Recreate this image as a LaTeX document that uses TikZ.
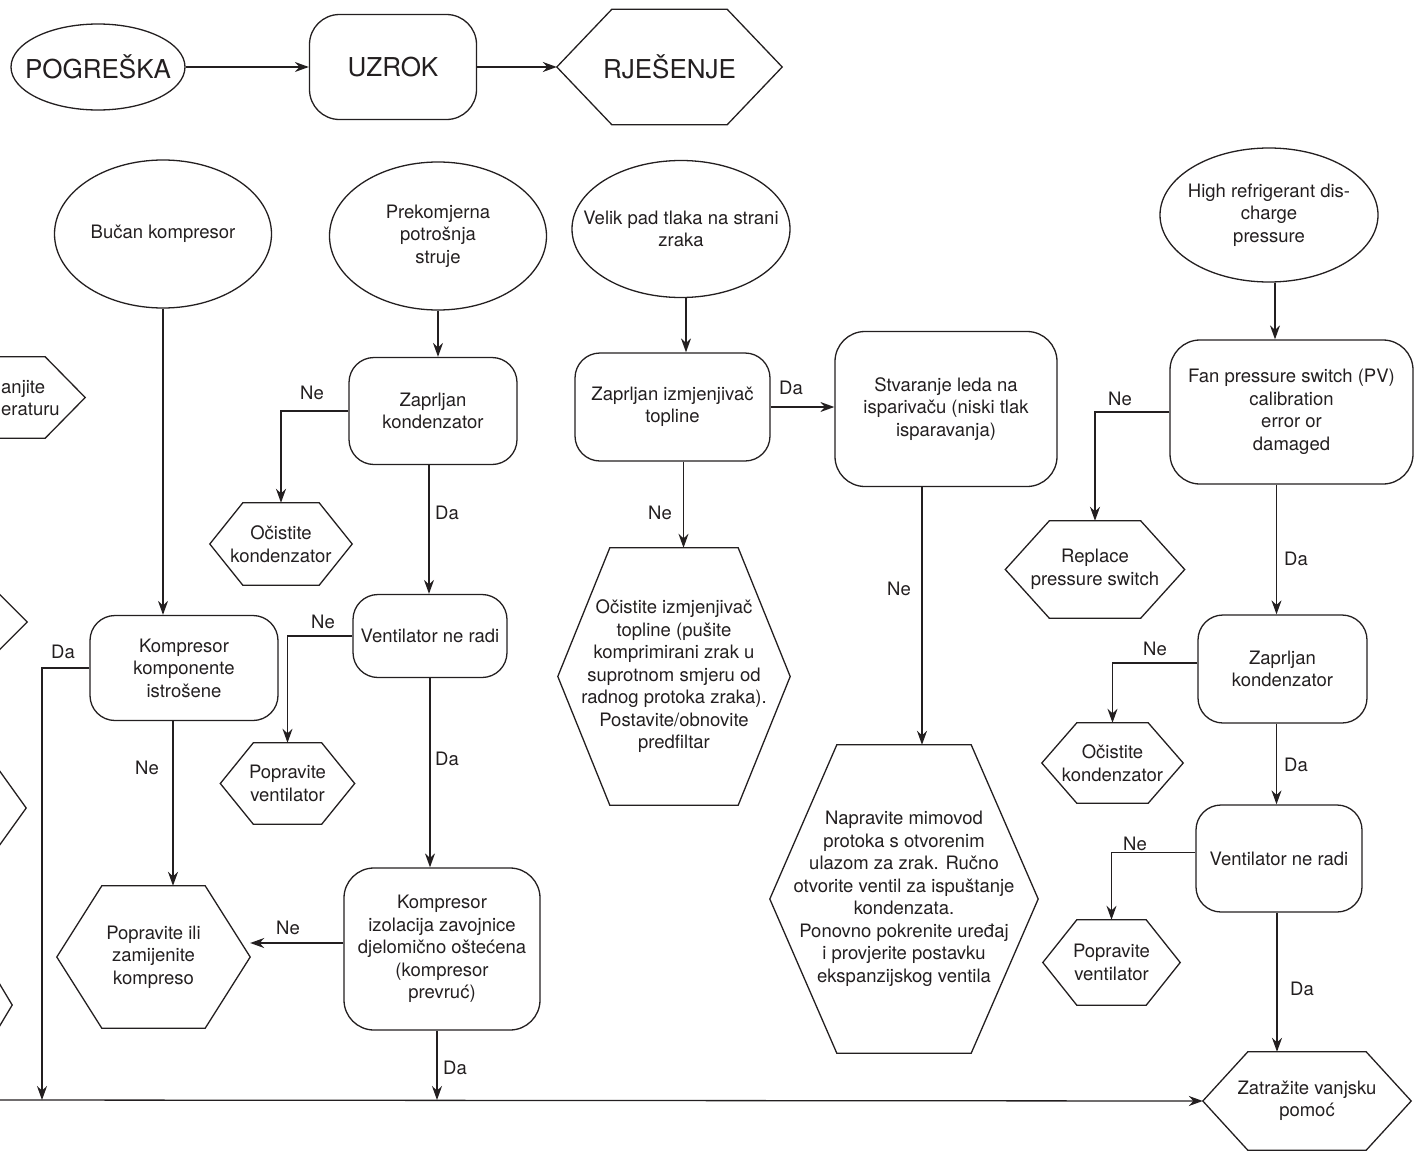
\documentclass[tikz,border=0pt]{standalone}
\usepackage{fontspec}
\setmainfont{TeX Gyre Heros}
\usetikzlibrary{shapes.geometric,arrows.meta,calc}
\definecolor{ink}{HTML}{231F20}

\begin{document}
\begin{tikzpicture}[x=1pt, y=-1pt, font=\fontsize{18.5}{22.5}\selectfont, text=ink,
    outl/.style={draw=ink, line width=1.3pt},
    ell/.style={ellipse, outl, inner xsep=-60pt, inner ysep=0pt, align=center},
    box/.style={rectangle, outl, rounded corners=25pt, inner sep=0pt, align=center},
    hexa/.style={rectangle, inner sep=0pt, align=center},
    arr/.style={outl, -{Stealth[length=14pt,width=10pt]}},
    lbl/.style={inner sep=0pt},
    big/.style={font=\fontsize{26}{30}\selectfont}]
    \useasboundingbox (0,0) rectangle (1414,1154);
    \clip (0,0) rectangle (1414,1154);

    % legend
    \node[ell, big, minimum width=174pt, minimum height=86pt] (pog) at (98,67) {POGREŠKA};
    \node[box, big, rounded corners=30pt, minimum width=167pt, minimum height=105pt] (uzr) at (393,67) {UZROK};
    \node[hexa, big, minimum width=225pt, minimum height=115pt] (rje) at (669.5,67) {RJEŠENJE};

    % faults
    \node[ell, minimum width=217pt, minimum height=148pt] (buc) at (163,234) {Bučan kompresor};
    \node[ell, minimum width=217pt, minimum height=148pt] (pre) at (438,236) {Prekomjerna\\potrošnja\\struje};
    \node[ell, minimum width=218pt, minimum height=137pt] (vel) at (681,229) {Velik pad tlaka na strani\\zraka};
    \node[ell, minimum width=218pt, minimum height=134pt] (hig) at (1269,215) {High refrigerant dis-\\charge\\pressure};

    % causes
    \node[box, minimum width=188pt, minimum height=105pt] (kki) at (184,668) {Kompresor\\komponente\\istrošene};
    \node[box, minimum width=168pt, minimum height=107pt] (zk1) at (433,411) {Zaprljan\\kondenzator};
    \node[box, minimum width=154pt, minimum height=83pt] (vnr1) at (430,636) {Ventilator ne radi};
    \node[box, rounded corners=30pt, minimum width=196pt, minimum height=162pt] (kiz) at (442,949) {Kompresor\\izolacija zavojnice\\djelomično oštećena\\(kompresor\\prevruć)};
    \node[box, minimum width=195pt, minimum height=108pt] (zit) at (672.5,407) {Zaprljan izmjenjivač\\topline};
    \node[box, rounded corners=30pt, minimum width=222pt, minimum height=155pt] (stv) at (946,409) {Stvaranje leda na\\isparivaču (niski tlak\\isparavanja)};
    \node[box, rounded corners=30pt, minimum width=243pt, minimum height=144pt] (fan) at (1291.5,412) {Fan pressure switch (PV)\\calibration\\error or\\damaged};
    \node[box, minimum width=169pt, minimum height=108pt] (zk2) at (1282.5,669) {Zaprljan\\kondenzator};
    \node[box, minimum width=166pt, minimum height=107pt] (vnr2) at (1279,858.5) {Ventilator ne radi};

    % remedies
    \node[hexa, minimum width=142pt, minimum height=82pt] (ok1) at (281,544) {Očistite\\kondenzator};
    \node[hexa, minimum width=134pt, minimum height=81pt] (pv1) at (287.5,783.5) {Popravite\\ventilator};
    \node[hexa, minimum width=193pt, minimum height=142pt] (pik) at (153.5,957) {Popravite ili\\zamijenite\\kompreso};
    \node[hexa, minimum width=232pt, minimum height=257pt] (oit) at (674,676.5) {Očistite izmjenjivač\\topline (pušite\\komprimirani zrak u\\suprotnom smjeru od\\radnog protoka zraka).\\Postavite/obnovite\\predfiltar};
    \node[hexa, minimum width=268pt, minimum height=308pt] (nap) at (904,899) {Napravite mimovod\\protoka s otvorenim\\ulazom za zrak. Ručno\\otvorite ventil za ispuštanje\\kondenzata.\\Ponovno pokrenite uređaj\\i provjerite postavku\\ekspanzijskog ventila};
    \node[hexa, minimum width=179pt, minimum height=97pt] (rps) at (1095,569.5) {Replace\\pressure switch};
    \node[hexa, minimum width=141pt, minimum height=80pt] (ok2) at (1112.5,763) {Očistite\\kondenzator};
    \node[hexa, minimum width=137pt, minimum height=85pt] (pv2) at (1111.5,962.5) {Popravite\\ventilator};
    \node[hexa, minimum width=208pt, minimum height=98pt] (zat) at (1307,1101) {Zatražite vanjsku\\pomoć};

    % cut at the left edge
    \node[hexa, minimum width=138pt, minimum height=81pt] (hA) at (16,397.5) {};
    \node[lbl, anchor=west, align=left] (hAt) at (1,398) {anjite\\eraturu};
    \node[hexa, minimum width=174pt, minimum height=90pt] (hB) at (-60,622) {};
    \node[hexa, minimum width=152pt, minimum height=100pt] (hC) at (-50,808) {};
    \node[hexa, minimum width=144pt, minimum height=100pt] (hD) at (-60,1005) {};

    \foreach \n/\d in {rje/55, ok1/33, pv1/33, pik/45, oit/52, nap/67, rps/44, ok2/35, pv2/34, zat/45, hA/40, hB/45, hC/36, hD/30}
        \draw[outl] ([xshift=\d pt]\n.north west) -- ([xshift=-\d pt]\n.north east) -- (\n.east)
            -- ([xshift=-\d pt]\n.south east) -- ([xshift=\d pt]\n.south west) -- (\n.west) -- cycle;

    \coordinate (bl) at (0,1100);
    \coordinate (dakki) at (42,1100);

    % legend arrows
    \draw[arr] (pog.east) -- (uzr.west);
    \draw[arr] (uzr.east) -- (rje.west);

    % column 1
    \draw[arr] (buc.south) -- (buc.south |- kki.north);
    \draw[arr] (kki.west) -| (dakki);
    \draw[arr] ([xshift=-11pt]kki.south) -- ([xshift=-11pt]kki.south |- pik.north);

    % column 2
    \draw[arr] (pre.south) -- (pre.south |- zk1.north);
    \draw[arr] (zk1.west) -| (ok1.north);
    \draw[arr] ([xshift=-4pt]zk1.south) -- ([xshift=-4pt]zk1.south |- vnr1.north);
    \draw[arr] (vnr1.west) -| (pv1.north);
    \draw[arr] (vnr1.south) -- (vnr1.south |- kiz.north);
    \draw[arr] ([yshift=6pt]kiz.west) -- ([yshift=6pt]kiz.west -| pik.east);
    \draw[arr] ([xshift=-5pt]kiz.south) -- ([xshift=-5pt]kiz.south |- bl);

    % column 3
    \draw[arr] ([xshift=5pt]vel.south) -- ([xshift=5pt]vel.south |- zit.north);
    \draw[arr] (zit.east) -- (zit.east -| stv.west);
    \draw[arr] ([xshift=11pt]zit.south) -- ([xshift=11pt]zit.south |- oit.north);
    \draw[arr] ([xshift=-24pt]stv.south) -- ([xshift=-24pt]stv.south |- nap.north);

    % column 4
    \draw[arr] ([xshift=6pt]hig.south) -- ([xshift=6pt]hig.south |- fan.north);
    \draw[arr] (fan.west) -| (rps.north);
    \draw[arr] ([xshift=-15pt]fan.south) -- ([xshift=-15pt]fan.south |- zk2.north);
    \draw[arr] ([yshift=6pt]zk2.west) -| (ok2.north);
    \draw[arr] ([xshift=-6pt]zk2.south) -- ([xshift=-6pt]zk2.south |- vnr2.north);
    \draw[arr] ([yshift=6pt]vnr2.west) -| (pv2.north);
    \draw[arr] ([xshift=-2pt]vnr2.south) -- ([xshift=-2pt]vnr2.south |- zat.north);

    % bottom line
    \draw[arr] (bl) -- (zat.west);

    % answers
    \node[lbl] (kkida) at (63,652) {Da};
    \node[lbl] (kkine) at (147,768) {Ne};
    \node[lbl] (zk1ne) at (312,393) {Ne};
    \node[lbl] (zk1da) at (447,513) {Da};
    \node[lbl] (vnr1ne) at (323,622) {Ne};
    \node[lbl] (vnr1da) at (447,759) {Da};
    \node[lbl] (kizne) at (288,928) {Ne};
    \node[lbl] (kizda) at (455,1068) {Da};
    \node[lbl] (zitda) at (791,388) {Da};
    \node[lbl] (zitne) at (660,513) {Ne};
    \node[lbl] (stvne) at (899,589) {Ne};
    \node[lbl] (fanne) at (1120,399) {Ne};
    \node[lbl] (fanda) at (1296,559) {Da};
    \node[lbl] (zk2ne) at (1155,649) {Ne};
    \node[lbl] (zk2da) at (1296,765) {Da};
    \node[lbl] (vnr2ne) at (1135,844) {Ne};
    \node[lbl] (vnr2da) at (1302,989) {Da};
\end{tikzpicture}
\end{document}
